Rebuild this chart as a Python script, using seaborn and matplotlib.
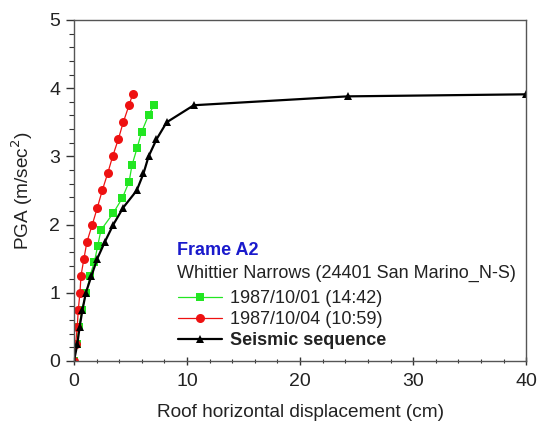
import matplotlib
matplotlib.use("Agg")
import matplotlib.pyplot as plt
import pandas as pd
import seaborn as sns
from matplotlib.ticker import MultipleLocator

# PGA levels (m/sec^2) and roof displacements (cm)
seq_pga = [0, 0.25, 0.5, 0.75, 1.0, 1.25, 1.5, 1.75, 2.0, 2.25, 2.5, 2.75,
           3.0, 3.25, 3.5, 3.75, 3.88, 3.91]
seq_disp = [0, 0.3, 0.5, 0.75, 1.05, 1.55, 2.06, 2.74, 3.48, 4.36, 5.55,
            6.15, 6.6, 7.3, 8.2, 10.6, 24.2, 40.0]

oct01_pga = [0, 0.25, 0.5, 0.75, 1.0, 1.25, 1.45, 1.68, 1.92, 2.17, 2.39,
             2.63, 2.87, 3.12, 3.36, 3.61, 3.76]
oct01_disp = [0, 0.25, 0.45, 0.7, 1.1, 1.42, 1.8, 2.09, 2.39, 3.48, 4.28,
              4.88, 5.13, 5.58, 5.99, 6.61, 7.11]

oct04_pga = [0, 0.25, 0.5, 0.75, 1.0, 1.25, 1.5, 1.75, 2.0, 2.25, 2.5, 2.75,
             3.0, 3.25, 3.5, 3.75, 3.91]
oct04_disp = [0, 0.15, 0.29, 0.38, 0.53, 0.62, 0.88, 1.15, 1.62, 2.07, 2.5,
              2.98, 3.42, 3.92, 4.36, 4.87, 5.19]

labels = ["1987/10/01 (14:42)", "1987/10/04 (10:59)", "Seismic sequence"]

sns.set_theme(style="ticks")
plt.rcParams["font.family"] = ["Liberation Sans", "DejaVu Sans"]

fig = plt.figure(figsize=(5.38, 4.25), dpi=100)
ax = fig.add_axes([0.1375, 0.1506, 0.8405, 0.8024])

df1 = pd.DataFrame({"disp": oct01_disp, "pga": oct01_pga})
df2 = pd.DataFrame({"disp": oct04_disp, "pga": oct04_pga})
df3 = pd.DataFrame({"disp": seq_disp, "pga": seq_pga})

sns.lineplot(data=df1, x="disp", y="pga", ax=ax, color="#22e622", lw=0.9,
             marker="s", markersize=6, markeredgewidth=0, sort=False,
             label=labels[0])
sns.lineplot(data=df2, x="disp", y="pga", ax=ax, color="#ee1111", lw=0.9,
             marker="o", markersize=6.5, markeredgewidth=0, sort=False,
             label=labels[1])
sns.lineplot(data=df3, x="disp", y="pga", ax=ax, color="black", lw=1.6,
             marker="^", markersize=6, markeredgewidth=0, sort=False,
             label=labels[2])

ax.set_xlim(0, 40)
ax.set_ylim(0, 5)
ax.xaxis.set_major_locator(MultipleLocator(10))
ax.xaxis.set_minor_locator(MultipleLocator(2))
ax.yaxis.set_major_locator(MultipleLocator(1))
ax.yaxis.set_minor_locator(MultipleLocator(0.2))
ax.tick_params(axis="x", which="both", direction="inout", labelsize=14,
               colors="#333333", labelcolor="#222222", pad=6)
ax.tick_params(axis="y", which="both", direction="out", labelsize=14,
               colors="#333333", labelcolor="#222222", pad=4)
ax.tick_params(which="major", length=6, width=1)
ax.tick_params(which="minor", length=3.5, width=0.8)
for s in ax.spines.values():
    s.set_visible(True)
    s.set_color("#555555")
    s.set_linewidth(1)

ax.set_xlabel("Roof horizontal displacement (cm)", fontsize=13.7, labelpad=10,
              color="#222222")
ax.set_ylabel("PGA (m/sec$^2$)", fontsize=13.7, labelpad=10, color="#222222")

ax.text(0.227, 0.323, "Frame A2", transform=ax.transAxes, color="#1a1acc",
        fontsize=13, fontweight="bold", va="center")
ax.text(0.227, 0.258, "Whittier Narrows (24401 San Marino_N-S)",
        transform=ax.transAxes, fontsize=13, va="center", color="#222222")

leg = ax.legend(loc="upper left", bbox_to_anchor=(0.215, 0.228), frameon=False,
                fontsize=13, handlelength=2.4, handletextpad=0.45,
                labelspacing=0.22, borderaxespad=0)
for t in leg.get_texts():
    t.set_color("#222222")
    if t.get_text() == labels[2]:
        t.set_fontweight("bold")

fig.savefig("out.png", dpi=100)
